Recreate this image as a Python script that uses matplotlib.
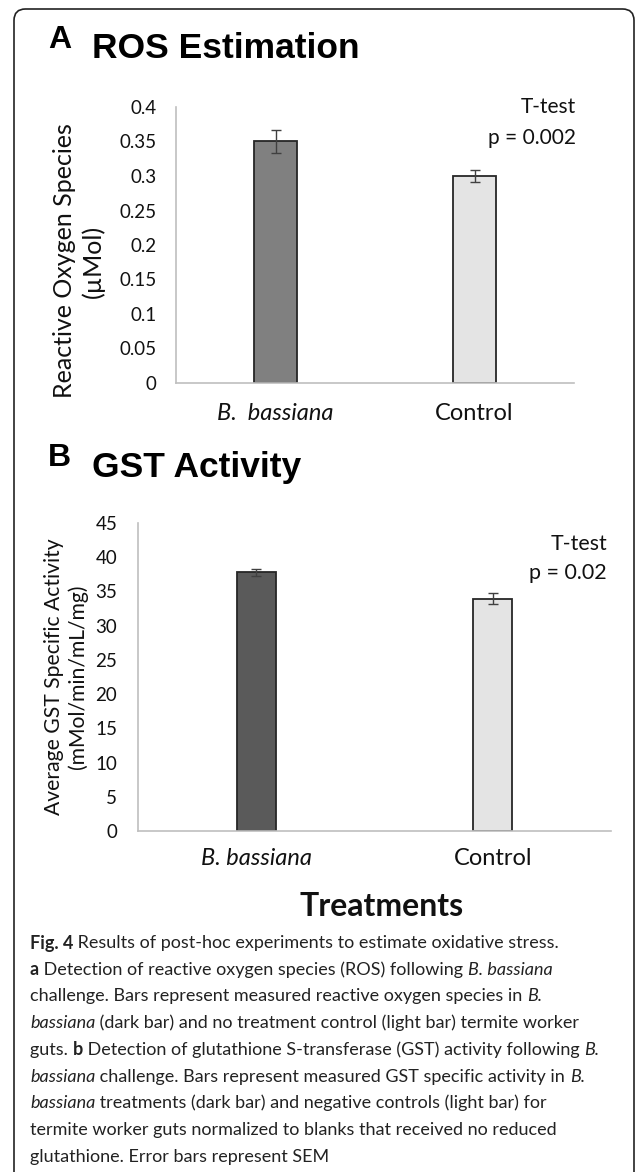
import matplotlib
matplotlib.use("Agg")
import matplotlib.pyplot as plt
from matplotlib.patches import FancyBboxPatch

# data
categories = ["B.  bassiana", "Control"]
ros_mean = [0.35, 0.30]
ros_sem = [0.016, 0.008]
gst_mean = [37.8, 33.9]
gst_sem = [0.5, 0.8]
ros_ticks = [0, 0.05, 0.1, 0.15, 0.2, 0.25, 0.3, 0.35, 0.4]
ros_ticklabels = ["0", "0.05", "0.1", "0.15", "0.2", "0.25", "0.3", "0.35", "0.4"]
gst_ticks = [0, 5, 10, 15, 20, 25, 30, 35, 40, 45]

W, H = 635, 1172
fig = plt.figure(figsize=(W / 100, H / 100), dpi=100)
body = "Lato"
head = "Liberation Sans"


def fx(x):
    return x / W


def fy(y):
    return 1 - y / H


def box(x0, y0, x1, y1):
    return [fx(x0), fy(y1), (x1 - x0) / W, (y1 - y0) / H]


# outer frame
frame = FancyBboxPatch((fx(14), fy(1190)), fx(634) - fx(14), fy(9) - fy(1190),
                       boxstyle="round,pad=0,rounding_size=0.018",
                       transform=fig.transFigure, fill=False, ec="#222222", lw=1.2,
                       mutation_aspect=W / H)
fig.patches.append(frame)


def panel(rect, labels, means, sems, colors, width, ylim, ticks, ticklabels, pad_y, pad_x):
    ax = fig.add_axes(rect)
    x = range(len(means))
    ax.bar(x, means, width=width, color=colors, edgecolor="#262626", linewidth=1.3, zorder=2)
    ax.errorbar(x, means, yerr=sems, fmt="none", ecolor="#404040", elinewidth=1, capsize=3.5,
                capthick=1, zorder=3)
    ax.set_xlim(-0.5, 1.5)
    ax.set_ylim(*ylim)
    ax.set_yticks(ticks)
    ax.set_yticklabels(ticklabels, fontfamily=body, fontsize=13.5, color="#111111")
    ax.set_xticks(list(x))
    ax.set_xticklabels(labels, fontfamily=body, fontsize=17, color="#111111")
    ax.get_xticklabels()[0].set_style("italic")
    ax.tick_params(axis="y", length=0, pad=pad_y)
    ax.tick_params(axis="x", length=0, pad=pad_x)
    for s in ["top", "right"]:
        ax.spines[s].set_visible(False)
    for s in ["left", "bottom"]:
        ax.spines[s].set_color("#bfbfbf")
        ax.spines[s].set_linewidth(1.2)
    return ax


# panel A
axA = panel(box(176, 107, 574, 383), categories, ros_mean, ros_sem, ["#808080", "#e4e4e4"],
            0.216, (0, 0.4), ros_ticks, ros_ticklabels, 14, 14.5)
fig.text(fx(48), fy(40), "A", fontfamily=head, fontweight="bold", fontsize=23, va="center")
fig.text(fx(92), fy(48), "ROS Estimation", fontfamily=head, fontweight="bold", fontsize=25.5,
         va="center")
fig.text(fx(79), fy(261), "Reactive Oxygen Species\n(\u00b5Mol)", fontfamily=body, fontsize=18,
         rotation=90, ha="center", va="center", multialignment="center", linespacing=1.25,
         color="#111111")
fig.text(fx(576), fy(107), "T-test", fontfamily=body, fontsize=15, ha="right", va="center",
         color="#111111")
fig.text(fx(576), fy(138), "p = 0.002", fontfamily=body, fontsize=15, ha="right", va="center",
         color="#111111")

# panel B
axB = panel(box(138, 523, 611, 831), [c.replace("  ", " ") for c in categories], gst_mean,
            gst_sem, ["#5a5a5a", "#e4e4e4"], 0.165, (0, 45), gst_ticks,
            [str(t) for t in gst_ticks], 15, 12.5)
fig.text(fx(48), fy(458), "B", fontfamily=head, fontweight="bold", fontsize=23, va="center")
fig.text(fx(92), fy(468), "GST Activity", fontfamily=head, fontweight="bold", fontsize=25.5,
         va="center")
fig.text(fx(66), fy(677), "Average GST Specific Activity\n(mMol/min/mL/mg)", fontfamily=body,
         fontsize=15.2, rotation=90, ha="center", va="center", multialignment="center",
         linespacing=1.25, color="#111111")
fig.text(fx(607), fy(544), "T-test", fontfamily=body, fontsize=15.4, ha="right", va="center",
         color="#111111")
fig.text(fx(607), fy(573), "p = 0.02", fontfamily=body, fontsize=15.4, ha="right", va="center",
         color="#111111")
fig.text(fx(382), fy(906), "Treatments", fontfamily=body, fontweight="bold", fontsize=23,
         ha="center", va="center", color="#111111")

# caption, one list of runs per line
caption = [
    [("Fig. 4", "b"), (" Results of post-hoc experiments to estimate oxidative stress.", "n")],
    [("a", "b"), (" Detection of reactive oxygen species (ROS) following ", "n"), ("B. bassiana", "i")],
    [("challenge. Bars represent measured reactive oxygen species in ", "n"), ("B.", "i")],
    [("bassiana", "i"), (" (dark bar) and no treatment control (light bar) termite worker", "n")],
    [("guts. ", "n"), ("b", "b"),
     (" Detection of glutathione S-transferase (GST) activity following ", "n"), ("B.", "i")],
    [("bassiana", "i"), (" challenge. Bars represent measured GST specific activity in ", "n"),
     ("B.", "i")],
    [("bassiana", "i"), (" treatments (dark bar) and negative controls (light bar) for", "n")],
    [("termite worker guts normalized to blanks that received no reduced", "n")],
    [("glutathione. Error bars represent SEM", "n")],
]
renderer = fig.canvas.get_renderer()
y = 943
for line in caption:
    x = 30
    for txt, st in line:
        t = fig.text(fx(x), fy(y), txt.replace(" ", "\u00a0"), fontfamily=body, fontsize=13.0,
                     va="center", color="#222222",
                     fontweight="bold" if st == "b" else "normal",
                     fontstyle="italic" if st == "i" else "normal")
        x += t.get_window_extent(renderer).width
    y += 26.7

fig.savefig("out.png", dpi=100)
